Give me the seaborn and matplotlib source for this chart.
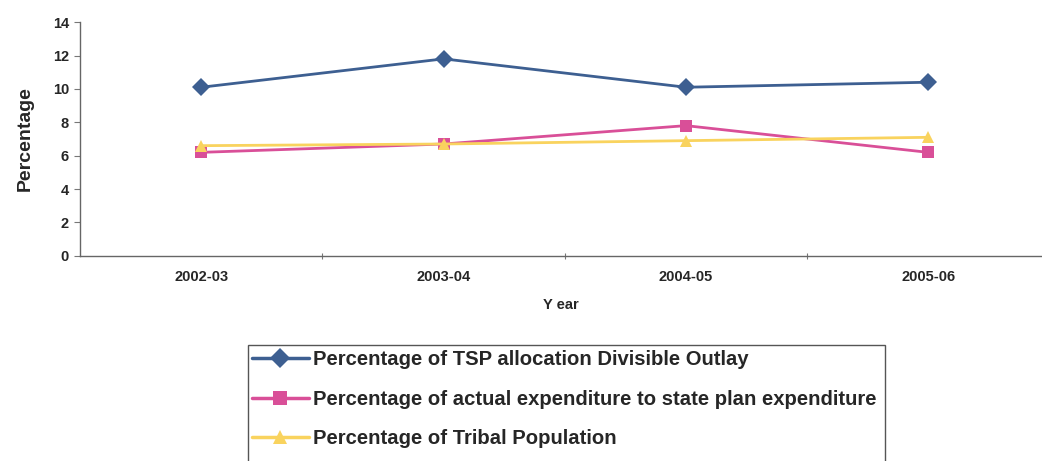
import matplotlib
matplotlib.use("Agg")
import matplotlib.pyplot as plt
import seaborn as sns
import pandas as pd
from matplotlib.ticker import FixedLocator
from matplotlib.patches import Rectangle

years = ["2002-03", "2003-04", "2004-05", "2005-06"]
tsp_allocation = [10.1, 11.8, 10.1, 10.4]
actual_expenditure = [6.2, 6.7, 7.8, 6.2]
tribal_population = [6.6, 6.7, 6.9, 7.1]

series_names = [
    "Percentage of TSP allocation Divisible Outlay",
    "Percentage of actual expenditure to state plan expenditure",
    "Percentage of Tribal Population",
]
series_values = [tsp_allocation, actual_expenditure, tribal_population]
colors = ["#3d5f91", "#d94f98", "#f9d35e"]
markers = ["D", "s", "^"]

rows = []
for name, vals in zip(series_names, series_values):
    for i, (y, v) in enumerate(zip(years, vals)):
        rows.append({"Year": y, "pos": i, "Percentage": v, "Series": name})
df = pd.DataFrame(rows)

sns.set_theme(style="white")
plt.rcParams["font.family"] = ["Liberation Sans", "DejaVu Sans"]

fig = plt.figure(figsize=(10.42, 4.61), dpi=100)
ax = fig.add_axes([0.077, 0.445, 0.923, 0.507])

sns.lineplot(
    data=df, x="pos", y="Percentage", hue="Series", style="Series",
    hue_order=series_names, style_order=series_names,
    palette=dict(zip(series_names, colors)),
    markers=dict(zip(series_names, markers)),
    dashes=False, linewidth=2, markersize=9, markeredgewidth=0,
    ax=ax, legend=False,
)

ax.set_xlim(-0.5, 3.47)
ax.set_ylim(0, 14)
ax.set_yticks(range(0, 15, 2))
ax.set_xticks(range(len(years)))
ax.set_xticklabels(years, fontsize=10.5, fontweight="bold")
ax.xaxis.set_minor_locator(FixedLocator([0.5, 1.5, 2.5]))
ax.tick_params(axis="x", which="major", length=0, pad=10)
ax.tick_params(axis="x", which="minor", length=4, direction="inout", color="#777777", width=0.8)
ax.tick_params(axis="y", which="major", length=4, direction="out", color="#777777",
               width=0.8, labelsize=10.5, pad=4)
ax.tick_params(axis="x", bottom=True, which="minor")
ax.tick_params(axis="y", left=True)
for lbl in ax.get_yticklabels():
    lbl.set_fontweight("bold")

for side in ["top", "right"]:
    ax.spines[side].set_visible(False)
for side in ["left", "bottom"]:
    ax.spines[side].set_color("#666666")
    ax.spines[side].set_linewidth(1.0)

ax.set_xlabel("Y ear", fontsize=10.5, fontweight="bold", labelpad=10)
ax.set_ylabel("Percentage", fontsize=14, fontweight="bold", labelpad=14)

handles = [
    plt.Line2D([], [], color=c, marker=m, linewidth=2.5, markersize=10, markeredgewidth=0)
    for c, m in zip(colors, markers)
]
leg = fig.legend(
    handles, series_names, loc="upper left",
    bbox_to_anchor=(250 / 1042, 1 - 348 / 461),
    frameon=False, handlelength=2.8, handletextpad=0.2, labelspacing=1.02,
    borderpad=0.1, borderaxespad=0,
    prop={"size": 14.6, "weight": "bold"},
)

# legend box, running past the lower edge of the figure
fig.add_artist(Rectangle((248 / 1042, -0.05), (885 - 248) / 1042, 0.05 + (461 - 345) / 461,
                         transform=fig.transFigure, fill=False,
                         edgecolor="#555555", linewidth=1.0))

fig.savefig("out.png", dpi=100)
